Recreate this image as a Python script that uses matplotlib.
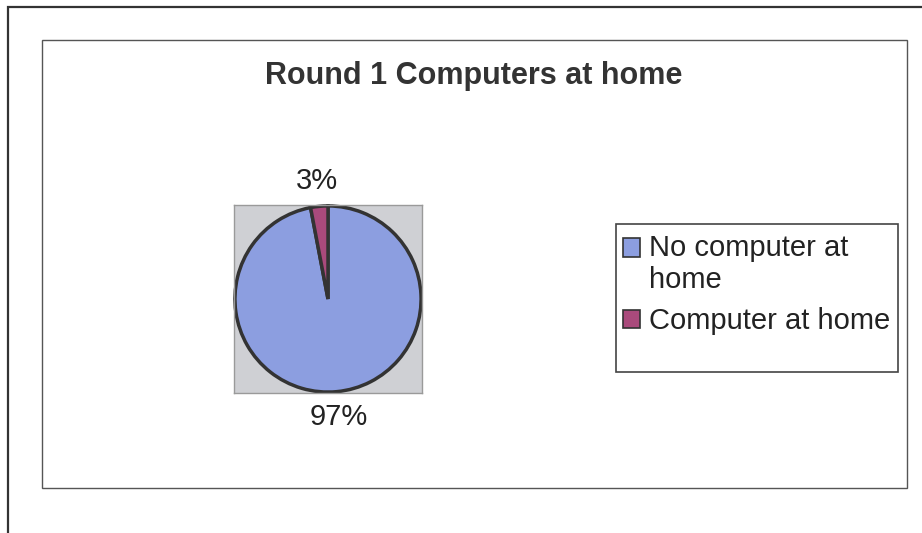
import matplotlib
matplotlib.use("Agg")
import matplotlib.pyplot as plt
from matplotlib.patches import Rectangle, Patch
from matplotlib.legend_handler import HandlerPatch

plt.rcParams['font.family'] = ['Liberation Sans', 'DejaVu Sans']

title = "Round 1 Computers at home"
categories = ["No computer at\nhome", "Computer at home"]
values = [97, 3]
pct_labels = ["97%", "3%"]
colors = ["#8c9ee0", "#aa4a7c"]

FS = 21
LS = 1.2

fig = plt.figure(figsize=(9.22, 5.33), dpi=100)
fig.patch.set_facecolor("white")

# outer frame and inner chart area
fig.add_artist(Rectangle((8/922, -0.05), 1.1, 1 - 7/533 + 0.05, transform=fig.transFigure,
                         fill=False, edgecolor="#333333", linewidth=1.6))
fig.add_artist(Rectangle((42/922, 1 - 488/533), (907-42)/922, (488-40)/533, transform=fig.transFigure,
                         fill=False, edgecolor="#555555", linewidth=1.0))

fig.text(474/922, 1 - 76/533, title, ha="center", va="center", fontsize=22, fontweight="bold",
         color="#333333")

ax = fig.add_axes([234/922, 1 - 394/533, 188/922, 190/533])
wedges, texts = ax.pie(values, labels=pct_labels, colors=colors, startangle=90, counterclock=False,
                       labeldistance=1.27,
                       wedgeprops=dict(edgecolor="#333333", linewidth=2.5),
                       textprops=dict(fontsize=FS, color="#222222"))
for t in texts:
    t.set_ha("center")
    t.set_va("center")
ax.set_frame_on(True)
ax.set_axis_on()
ax.patch.set_visible(True)
ax.set_facecolor("#cfd0d4")
ax.set_xlim(-1.01, 1.01)
ax.set_ylim(-1.01, 1.01)
ax.set_xticks([])
ax.set_yticks([])
for s in ax.spines.values():
    s.set_color("#9a9a9a")
    s.set_linewidth(1.0)


class TopAlignedPatch(HandlerPatch):
    def __init__(self, nlines, **kw):
        super().__init__(**kw)
        self.nlines = nlines

    def create_artists(self, legend, orig_handle, xdescent, ydescent, width, height, fontsize, trans):
        shift = 0.5 * (self.nlines - 1) * fontsize * LS
        p = Rectangle((-xdescent, -ydescent + shift), width, height)
        self.update_prop(p, orig_handle, legend)
        p.set_transform(trans)
        return [p]


# legend box
fig.add_artist(Rectangle((616/922, 1 - 372/533), (898-616)/922, (372-224)/533, transform=fig.transFigure,
                         fill=False, edgecolor="#444444", linewidth=1.2))
handles = [Patch(facecolor=c, edgecolor="#333333", linewidth=1.2) for c in colors]
hmap = {h: TopAlignedPatch(lab.count("\n") + 1) for h, lab in zip(handles, categories)}
leg = fig.legend(handles, categories, loc="upper left", bbox_to_anchor=(620/922, 1 - 231/533),
                 frameon=False, fontsize=FS, handlelength=0.6, handleheight=0.6, handletextpad=0.3,
                 labelspacing=0.45, borderaxespad=0, borderpad=0.1, labelcolor="#222222",
                 handler_map=hmap)
for t in leg.get_texts():
    t.set_linespacing(LS)

fig.savefig("out.png", dpi=100)
